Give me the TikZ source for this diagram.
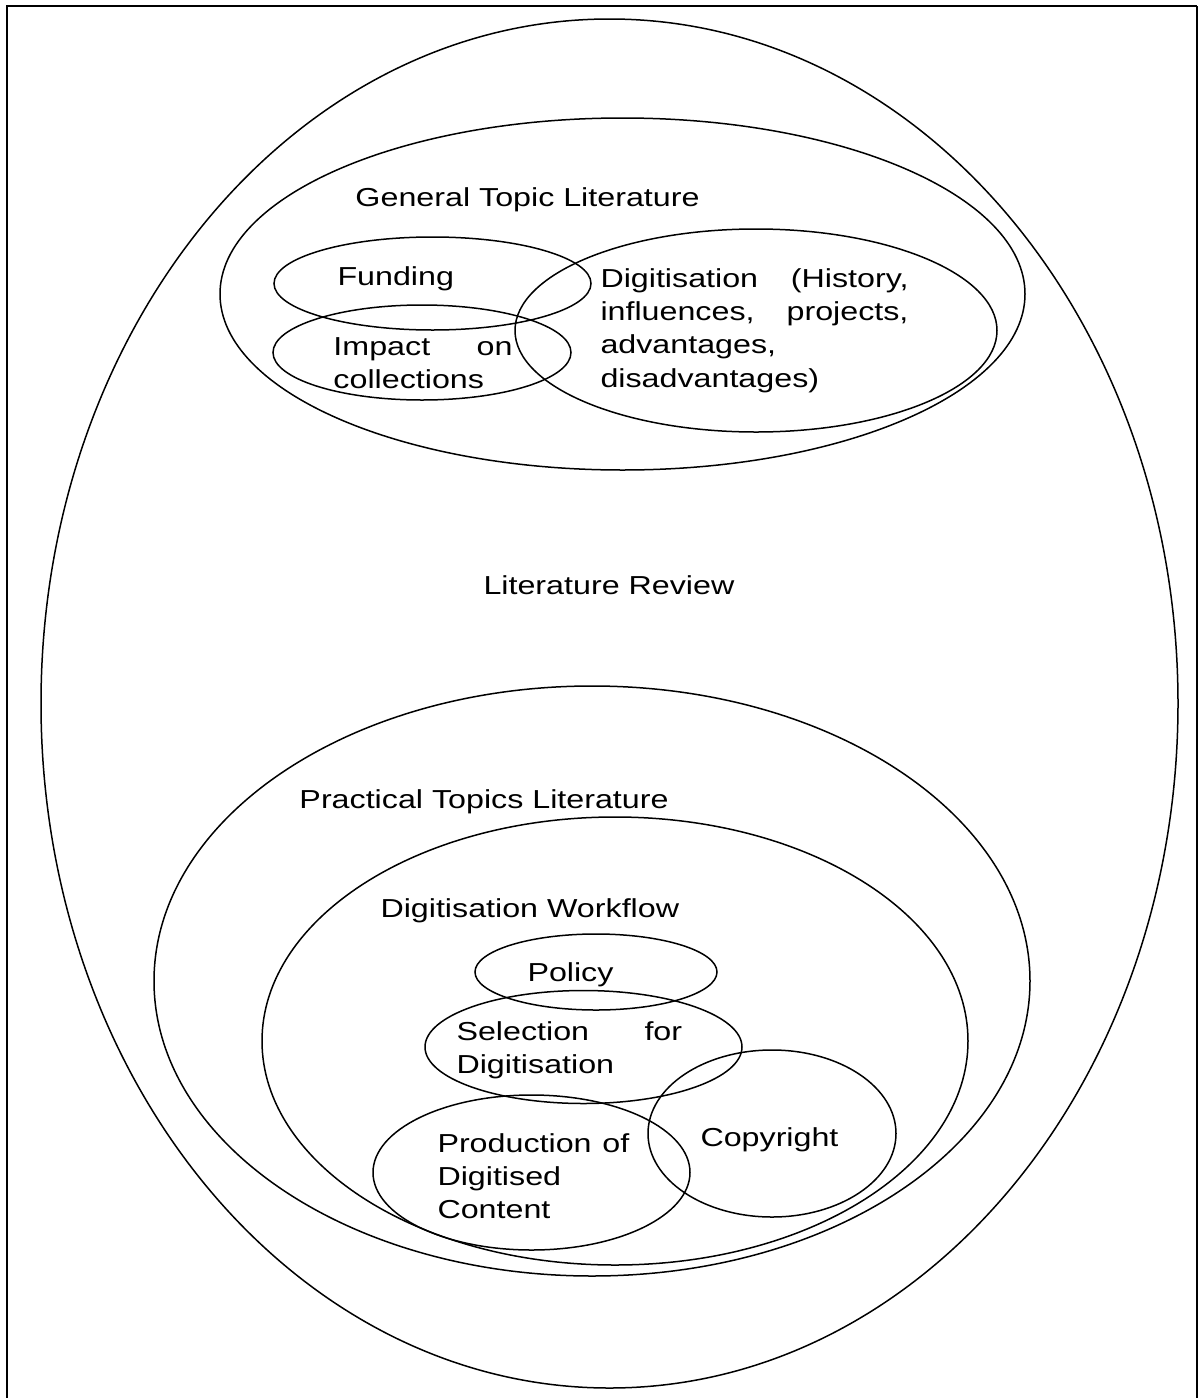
\documentclass[tikz,border=0pt]{standalone}
\usepackage{fontspec}
\setmainfont{Liberation Sans}
\usetikzlibrary{shapes.geometric}
\begin{document}
\begin{tikzpicture}[x=0.5pt,y=-0.5pt,
  ring/.style={draw, ellipse, inner sep=0pt, line width=0.75pt},
  label/.style={inner sep=0pt, anchor=base west, xscale=1.24, transform shape,
                font=\fontsize{13}{16.7}\selectfont},
  block/.style={label, align=left, text width=#1}]
\useasboundingbox (0,0) rectangle (1200,1398);

% page frame (open at the bottom)
\coordinate (fbl) at (7,1398);
\coordinate (ftl) at (7,6);
\coordinate (ftr) at (1197,6);
\coordinate (fbr) at (1197,1398);
\draw[line width=1pt] (fbl) -- (ftl) -- (ftr);
\draw[line width=0.6pt] (ftr) -- (fbr);

% outer set
\node[ring, minimum width=568.5pt, minimum height=684.5pt] (review) at (609.5,703.5) {};
\node[label] (reviewt) at (483,594) {Literature Review};

% general topics
\node[ring, minimum width=402.5pt, minimum height=176pt] (general) at (622.5,294) {};
\node[label] (generalt) at (355,206) {General Topic Literature};
\node[ring, minimum width=158.5pt, minimum height=46.5pt] (funding) at (432.5,283.5) {};
\node[ring, minimum width=149pt, minimum height=47.5pt] (impact) at (422,352.5) {};
\node[ring, minimum width=241pt, minimum height=101.5pt] (digi) at (756,330.5) {};
\node[label] (fundingt) at (337,285) {Funding};
\node[block=72.2pt] (impactt) at (333,355) {Impact\hfill on\\collections};
\node[block=124.2pt] (digit) at (600,287)
  {Digitisation\hfill(History,\\influences,\hfill projects,\\advantages,\\disadvantages)};

% practical topics
\node[ring, minimum width=438pt, minimum height=295pt] (practical) at (592,981) {};
\node[label] (practicalt) at (299,808) {Practical Topics Literature};
\node[ring, minimum width=353pt, minimum height=224pt] (workflow) at (615,1041) {};
\node[label] (workflowt) at (380,917) {Digitisation Workflow};
\node[ring, minimum width=121pt, minimum height=38pt] (policy) at (596,972) {};
\node[label] (policyt) at (527,981) {Policy};
\node[ring, minimum width=158.5pt, minimum height=56.5pt] (selection) at (583.5,1047) {};
\node[block=91pt] (selectiont) at (456,1040) {Selection\hfill for\\Digitisation};
\node[ring, minimum width=124pt, minimum height=83.5pt] (copyright) at (772,1133.5) {};
\node[label] (copyrightt) at (700,1146) {Copyright};
\node[ring, minimum width=158.5pt, minimum height=77.5pt] (production) at (531.5,1172.5) {};
\node[block=100pt] (productiont) at (437,1152) {Production of\\Digitised\\Content};
\end{tikzpicture}
\end{document}
